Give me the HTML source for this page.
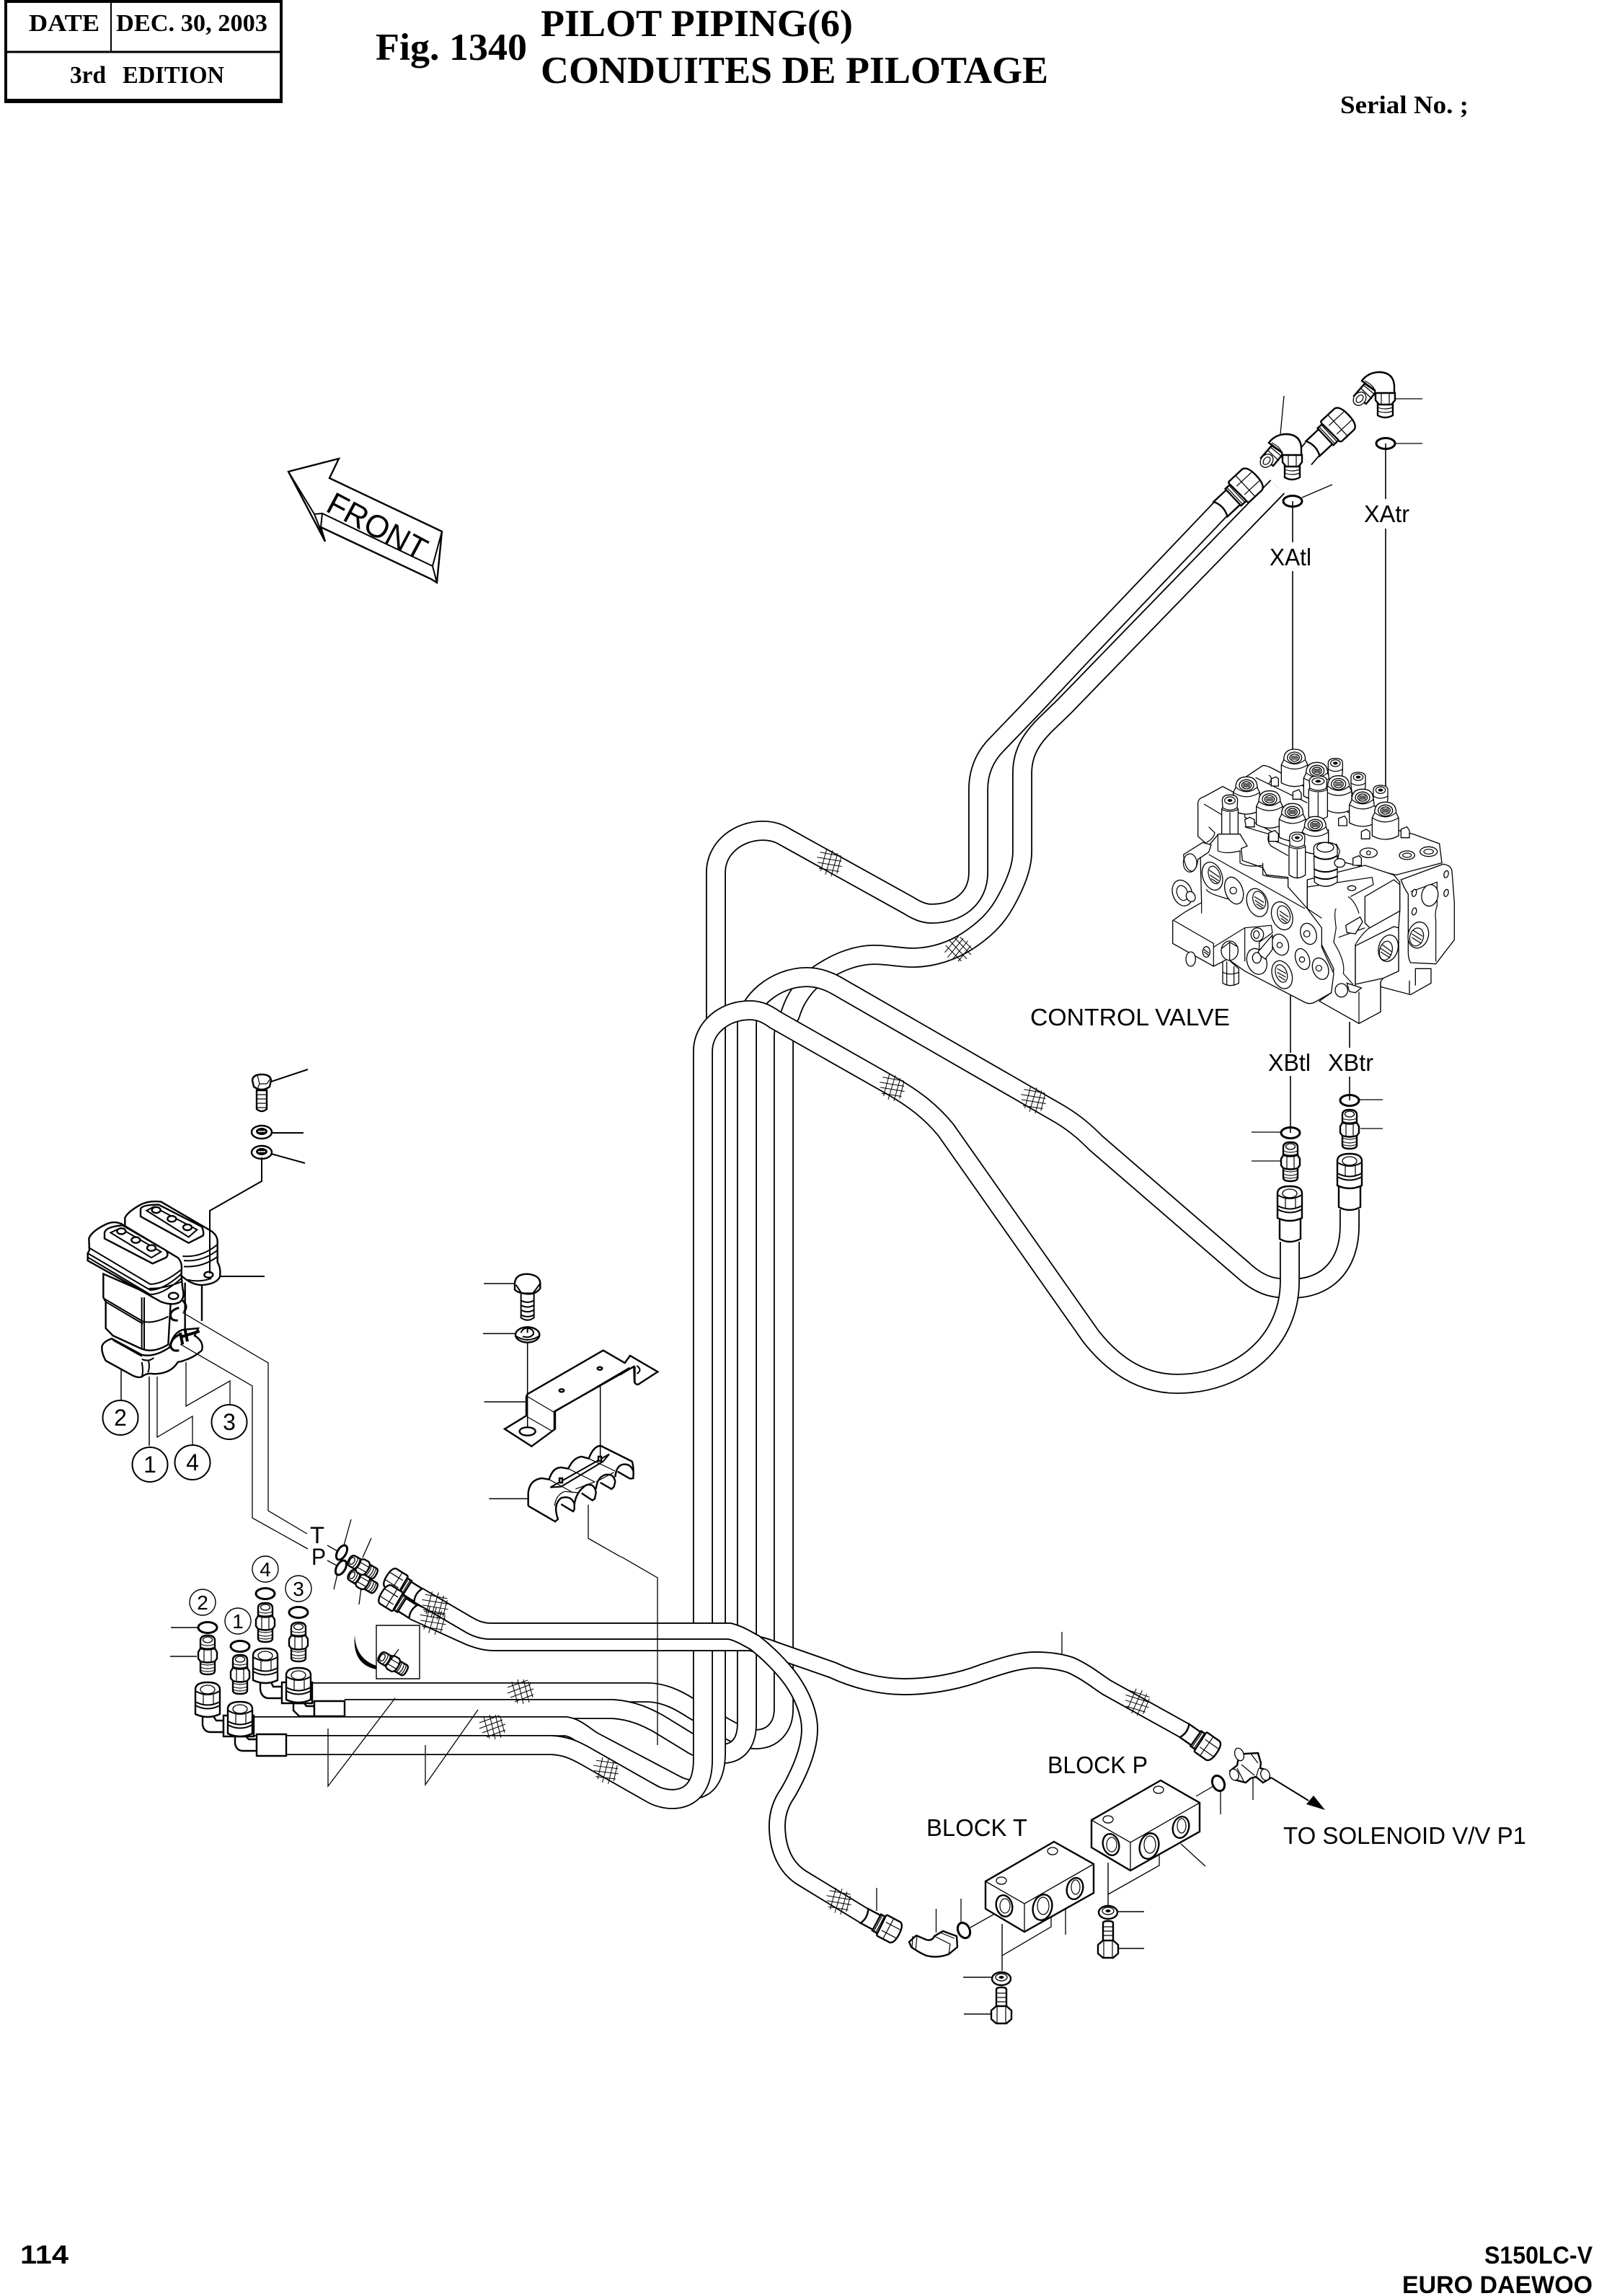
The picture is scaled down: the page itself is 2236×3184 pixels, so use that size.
<!DOCTYPE html>
<html><head><meta charset="utf-8"><title>Fig. 1340 Pilot Piping</title>
<style>
html,body{margin:0;padding:0;background:#fff}
svg{display:block}
svg *{vector-effect:non-scaling-stroke}
text{font-family:"Liberation Sans",sans-serif;fill:#000;stroke:none}
.s{font-family:"Liberation Serif",serif;font-weight:bold}
.b{font-weight:bold}
.o{fill:none;stroke:#000;stroke-width:28}
.i{fill:none;stroke:#fff;stroke-width:24.4}
.o2{fill:none;stroke:#000;stroke-width:24}
.i2{fill:none;stroke:#fff;stroke-width:20.2}
.l{fill:none;stroke:#000;stroke-width:1.3}
.m{fill:none;stroke:#000;stroke-width:2}
.k{fill:#fff;stroke:#000;stroke-width:2.4}
.r{fill:none;stroke:#000;stroke-width:3}
.t{fill:#fff;stroke:#000;stroke-width:1.3}
.tn{fill:none;stroke:#000;stroke-width:1.2}
.d{fill:#000;stroke:none}
.f{fill:none;stroke:#000;stroke-width:1}
</style></head><body>
<svg xmlns="http://www.w3.org/2000/svg" width="2236" height="3184" viewBox="0 0 2236 3184">
<rect width="2236" height="3184" fill="#fff"/>
<defs>
<path id="H3" d="M433,2347 H900 C925,2348 945,2360 962,2371 L1006,2396 C1030,2410 1043,2412 1048,2412 C1072,2412 1087,2395 1087,2370 V1439 C1087,1425 1091,1415 1096,1407 C1101,1392 1105,1384 1114,1372 C1122,1361 1132,1353 1146,1345 C1165,1333 1190,1324 1212,1324 C1232,1324 1248,1328 1266,1328 C1295,1328 1322,1318 1342,1305 C1365,1290 1380,1275 1391,1257 C1410,1225 1418,1200 1418,1181 V1072 C1418,1040 1435,1020 1450,1005 L1476,980 L1772,675"/>
<path id="H2" d="M478,2370 H850 C880,2372 900,2383 913,2390 L962,2420 C980,2429 990,2433 1004,2432 C1025,2431 1036,2415 1036,2390 V1420 C1036,1390 1075,1355 1119,1355 C1135,1355 1148,1360 1159,1366 L1470,1545 C1495,1560 1510,1575 1520,1585 L1725,1762 C1750,1785 1770,1787 1790,1787 C1845,1787 1872,1750 1872,1700 V1677"/>
<path id="H1" d="M352,2394 H785 C800,2396 812,2409 823,2415 L937,2475 C965,2490 993,2480 993,2430 V1210 C993,1175 1025,1152 1058,1152 C1070,1152 1080,1155 1088,1160 L1261,1256 C1275,1265 1285,1267 1292,1267 C1330,1267 1357,1245 1357,1210 V1095 C1357,1065 1370,1045 1383,1032 L1433,980 L1500,908.6 L1693,706"/>
<path id="H4" d="M397,2420 H765 C785,2421 797,2427 810,2434 L905,2488 C925,2499 975,2505 975,2440 V1458 C975,1425 1005,1401 1040,1401 C1055,1401 1065,1407 1075,1414 L1237,1506 C1265,1522 1290,1540 1312,1567 L1513,1853 C1550,1900 1590,1919 1633,1919 C1720,1919 1789,1860 1789,1777 V1722"/>
<path id="HP" d="M573,2235 L650,2270 C665,2276 675,2278 687,2278 H1040 C1050,2280 1060,2282 1075,2288 L1155,2316 C1185,2330 1220,2339 1254,2339 C1295,2339 1335,2330 1363,2319 C1390,2310 1415,2302 1436,2302 C1455,2302 1470,2304 1485,2309 C1505,2318 1520,2330 1535,2340 L1643,2400"/>
<path id="HT" d="M580,2212 L650,2253 C660,2259 670,2262 680,2262 H1012 C1025,2265 1036,2272 1047,2278 C1065,2292 1085,2312 1098,2330 C1112,2350 1123,2375 1123,2398 C1123,2430 1105,2465 1093,2486 C1083,2500 1078,2515 1078,2532 C1078,2565 1090,2590 1112,2604 L1199,2657"/>
<g id="n">
<path class="k" d="M-10,-20 Q-10,-27 0,-27 Q10,-27 10,-20 V22 Q10,27 0,27 Q-10,27 -10,22 Z"/>
<ellipse class="t" cx="0" cy="-21" rx="6.5" ry="4"/>
<path class="tn" d="M-10,-15 Q0,-11 10,-15 M-10,-11 Q0,-7 10,-11 M-10,12 Q0,16 10,12 M-10,17 Q0,21 10,17 M-10,21 Q0,25 10,21"/>
<path class="k" d="M-13,-4 L-10,-9 Q0,-6 10,-9 L13,-4 V5 L10,9 Q0,12 -10,9 L-13,5 Z"/>
<path class="tn" d="M-5,-7 L-5,9 M5,-7 V9"/>
</g>
<g id="u">
<path class="k" d="M-17,-12 Q-17,-22 0,-22 Q17,-22 17,-12 V22 Q0,30 -17,22 Z"/>
<path class="m" d="M-17,5 Q0,14 17,5 M-17,10 Q0,19 17,10"/>
<ellipse class="t" cx="0" cy="-12" rx="10" ry="6"/>
<path class="tn" d="M-6,-5 V9 M8,-5 V9"/>
<path class="m" d="M-17,-10 Q0,0 17,-10"/>
</g>
<g id="e">
<path class="k" d="M-28,2 L-13,-15 L3,-4 L-11,13 Z"/>
<ellipse class="t" cx="-20" cy="6" rx="8" ry="10" transform="rotate(40 -20 6)"/>
<ellipse class="tn" cx="-20" cy="6" rx="4" ry="6" transform="rotate(40 -20 6)"/>
<path class="tn" d="M-19,-9 L-3,6 M-15,-13 L1,0"/>
<path class="k" d="M-17,-19 Q-8,-31 8,-31 Q27,-30 28,-12 V3 L2,3 L1,-6 Q-8,-12 -17,-19 Z"/>
<path class="tn" d="M-13,-19 Q-3,-14 0,-8"/>
<path class="k" d="M5,12 H26 V29 Q15,35 5,29 Z"/>
<path class="tn" d="M5,18 Q15,22 26,18 M5,23 Q15,27 26,23"/>
<path class="k" d="M2,-2 L29,-2 L29,8 L24,14 L7,14 L2,8 Z"/>
<path class="tn" d="M10,-2 V14 M21,-2 V14"/>
</g>
<g id="h">
<path class="k" d="M0,-14 H26 V14 H0 Q7,0 0,-14 Z"/>
<path class="k" d="M24,-16 H35 V16 H24 Z"/>
<path class="tn" d="M27,-16 V16 M31,-16 V16"/>
<path class="k" d="M35,-20 Q32,-20 33,-14 L34,14 Q33,20 37,20 H60 Q68,18 68,0 Q68,-18 60,-20 Z"/>
<path class="tn" d="M38,-8 H66 M38,8 H66 M47,-20 V20"/>
</g>
<g id="w">
<ellipse class="k" cx="0" cy="2" rx="13" ry="9"/>
<ellipse class="t" cx="0" cy="0" rx="8" ry="5"/>
<ellipse class="d" cx="0" cy="0" rx="3.5" ry="2"/>
</g>
<g id="z">
<path class="f" d="M-18,-6 L10,-16 M-18,2 L14,-10 M-14,8 L18,-4 M-8,14 L18,4"/>
<path class="f" d="M-12,-14 L-4,16 M-4,-17 L4,17 M4,-17 L12,15 M11,-14 L17,8"/>
</g>
<g id="c">
<path class="t" d="M-45,10 Q-45,-35 0,-35 Q45,-35 45,10 L55,30 V105 Q0,135 -55,105 V30 Z"/>
<path class="tn" d="M-45,8 Q0,45 45,8 M-55,30 Q0,65 55,30"/>
<ellipse class="t" cx="0" cy="0" rx="30" ry="23"/>
<ellipse class="tn" cx="0" cy="0" rx="20" ry="15"/>
<path class="tn" d="M-14,-6 H14 M-16,0 H16 M-14,6 H14"/>
</g>
<g id="x">
<path class="t" d="M-32,-5 Q-32,-28 0,-28 Q32,-28 32,-5 L30,25 L34,30 V150 Q0,175 -34,150 V30 L-30,25 Z"/>
<path class="tn" d="M-30,25 Q0,45 30,25 M-34,32 Q0,50 34,32 M0,45 V165"/>
<ellipse class="tn" cx="0" cy="-5" rx="22" ry="15"/>
<ellipse class="d" cx="0" cy="-5" rx="10" ry="6"/>
</g>
<g id="y">
<path class="t" d="M-30,-5 Q-30,-25 0,-25 Q30,-25 30,-5 V30 L26,62 H-26 L-30,30 Z"/>
<path class="tn" d="M-30,20 Q0,38 30,20"/>
<ellipse class="tn" cx="0" cy="-5" rx="20" ry="14"/>
<ellipse class="d" cx="0" cy="-5" rx="10" ry="6"/>
</g>
</defs>

<!-- header -->
<rect x="8" y="2" width="382" height="139" fill="none" stroke="#000" stroke-width="4"/>
<path d="M6,72 H390" stroke="#000" stroke-width="3" fill="none"/>
<path d="M154,4 V72" stroke="#000" stroke-width="2" fill="none"/>
<rect x="6" y="137" width="386" height="6" fill="#000"/>
<text class="s" x="40" y="43" font-size="34" textLength="98" lengthAdjust="spacingAndGlyphs">DATE</text>
<text class="s" x="161" y="43" font-size="34" textLength="210" lengthAdjust="spacingAndGlyphs">DEC. 30, 2003</text>
<text class="s" x="97" y="115" font-size="34" textLength="50" lengthAdjust="spacingAndGlyphs">3rd</text>
<text class="s" x="170" y="115" font-size="34" textLength="141" lengthAdjust="spacingAndGlyphs">EDITION</text>
<text class="s" x="521" y="83" font-size="53" textLength="210" lengthAdjust="spacingAndGlyphs">Fig. 1340</text>
<text class="s" x="750" y="50" font-size="53" textLength="433" lengthAdjust="spacingAndGlyphs">PILOT PIPING(6)</text>
<text class="s" x="750" y="115" font-size="53" textLength="704" lengthAdjust="spacingAndGlyphs">CONDUITES DE PILOTAGE</text>
<text class="s" x="1859" y="157" font-size="35" textLength="178" lengthAdjust="spacingAndGlyphs">Serial No. ;</text>

<!-- FRONT arrow -->
<path class="k" d="M400,654 L470,636 L457,663 L613,737 L606,808 L598,803 L445,731 L451,751 L400,654 Z"/>
<path class="m" d="M400,654 L436,713 L447,712 L600,785 L613,737 M600,785 L606,808 M436,713 L451,751 M447,712 L445,731"/>
<text x="0" y="0" font-size="44" transform="translate(450,708) rotate(28)" textLength="150" lengthAdjust="spacingAndGlyphs">FRONT</text>

<!-- hoses -->
<use href="#H3" class="o"/><use href="#H3" class="i"/>
<use href="#H2" class="o"/><use href="#H2" class="i"/>
<use href="#H1" class="o"/><use href="#H1" class="i"/>
<use href="#H4" class="o"/><use href="#H4" class="i"/>
<use href="#HP" class="o2"/><use href="#HP" class="i2"/>
<use href="#HT" class="o2"/><use href="#HT" class="i2"/>
<path class="o" d="M1809,636 L1821,622"/><path class="i" d="M1809,636 L1821,622"/>

<!-- mesh -->
<use href="#z" transform="translate(1150,1196) rotate(30)"/>
<use href="#z" transform="translate(1329,1317) rotate(-30)"/>
<use href="#z" transform="translate(1237,1508) rotate(30)"/>
<use href="#z" transform="translate(1433,1525) rotate(30)"/>
<use href="#z" transform="translate(722,2346)"/>
<use href="#z" transform="translate(683,2395)"/>
<use href="#z" transform="translate(840,2455) rotate(28)"/>
<use href="#z" transform="translate(1163,2636) rotate(30)"/>
<use href="#z" transform="translate(1577,2360) rotate(38)"/>
<use href="#z" transform="translate(603,2226) rotate(30) scale(1.05)"/>
<use href="#z" transform="translate(600,2247) rotate(30) scale(1.05)"/>

<!-- hose ends top -->
<use href="#h" transform="translate(1693,706) rotate(-43)"/>
<use href="#h" transform="translate(1821,622) rotate(-43)"/>
<use href="#e" transform="translate(1777,633)"/>
<use href="#e" transform="translate(1906,547)"/>

<!-- top labels and leaders -->
<ellipse class="r" cx="1793" cy="695" rx="13" ry="7.5"/>
<ellipse class="r" cx="1922" cy="615" rx="13" ry="7.5"/>
<path class="l" d="M1776,602 L1781,549 M1806,690 L1848,672 M1934,615 H1973 M1934,553 H1973"/>
<path class="m" style="stroke-width:1.6" d="M1793,695 V752 M1793,792 V1130 M1922,615 V692 M1922,733 V1125"/>
<text x="1761" y="784" font-size="33" textLength="58" lengthAdjust="spacingAndGlyphs">XAtl</text>
<text x="1892" y="724" font-size="33" textLength="63" lengthAdjust="spacingAndGlyphs">XAtr</text>

<!-- control valve -->
<g transform="translate(1560,1000) scale(.33333)">
<path class="t" d="M305,480 V340 Q308,320 330,315 L408,272 L470,305 V470 L400,560 Z"/>
<path class="tn" d="M330,345 L405,390 M350,440 L375,465 Q370,490 340,505"/>
<path class="t" d="M500,235 L575,185 Q590,182 640,210 L1000,420 L1200,470 L1310,510 L1320,590 L1130,640 L800,560 L500,400 Z"/>
<path class="tn" d="M545,235 L760,340 M600,225 Q620,235 600,260"/>
<path class="t" d="M1150,660 L1325,595 Q1360,600 1362,625 L1372,755 V910 L1295,1010 L1190,1005 Q1180,990 1180,960 V720 Q1160,690 1150,660 Z"/>
<path class="tn" d="M1190,710 L1300,670 V770 Q1290,790 1295,830 V1000"/>
<ellipse class="t" cx="1205" cy="715" rx="9" ry="15" transform="rotate(15 1205 715)"/>
<ellipse class="t" cx="1338" cy="637" rx="9" ry="15" transform="rotate(15 1338 637)"/>
<ellipse class="t" cx="1338" cy="715" rx="9" ry="15" transform="rotate(15 1338 715)"/>
<ellipse class="t" cx="1205" cy="792" rx="9" ry="15" transform="rotate(15 1205 792)"/>
<ellipse class="t" cx="1270" cy="725" rx="34" ry="45" transform="rotate(10 1270 725)"/>
<ellipse class="t" cx="1222" cy="890" rx="42" ry="55" transform="rotate(15 1222 890)"/>
<ellipse class="tn" cx="1215" cy="898" rx="28" ry="38" transform="rotate(15 1215 898)"/>
<path class="tn" d="M1195,885 L1235,910 M1195,900 L1235,925 M1200,870 L1240,895"/>
<path class="t" d="M1065,1090 V1105 L1190,1138 L1275,1090 V1030 H1210 V1100 M1185,1080 V1135"/>
<path class="t" d="M760,660 L1000,600 L1120,640 L1145,670 V790 L1140,860 V1040 L1075,1070 L1065,1085 V1210 L975,1258 L810,1165 L860,1130 L870,1030 L820,930 L760,780 Z"/>
<path class="t" d="M1000,730 L1120,660 L1145,680 V790 L1020,860 L1000,840 Z"/>
<path class="t" d="M960,935 L1120,855 L1140,860 V1040 L1075,1070 L960,1095 Z"/>
<ellipse class="t" cx="1097" cy="945" rx="40" ry="56" transform="rotate(15 1097 945)"/>
<ellipse class="tn" cx="1087" cy="955" rx="26" ry="40" transform="rotate(15 1087 955)"/>
<path class="tn" d="M1065,945 L1110,975 M1065,960 L1105,985 M1072,930 L1112,960"/>
<path class="tn" d="M975,1125 V1258 M880,780 Q870,790 880,860 L870,920 Q920,1000 910,1050 L950,1095 M1020,860 Q990,880 960,930 V1100 M890,900 L1000,860 M1065,1210 V1085 M930,730 Q960,750 975,800"/>
<path class="tn" d="M760,690 L1030,650 L1035,680 L940,730"/>
<ellipse class="t" cx="945" cy="695" rx="17" ry="10"/>
<path class="t" d="M920,850 L980,815 L990,835 L960,885 L925,880 Z"/>
<ellipse class="t" cx="902" cy="1120" rx="26" ry="28"/>
<path class="t" d="M925,1090 L985,1110 L960,1130 L935,1125 Z"/>
<use href="#c" transform="translate(707,152)"/>
<use href="#c" transform="translate(800,207)"/>
<use href="#y" transform="translate(877,180)"/>
<use href="#c" transform="translate(890,262)"/>
<use href="#y" transform="translate(972,238)"/>
<use href="#c" transform="translate(990,318)"/>
<use href="#y" transform="translate(1065,292)"/>
<use href="#c" transform="translate(1085,372)"/>
<use href="#c" transform="translate(507,267)"/>
<use href="#c" transform="translate(603,325)"/>
<use href="#x" transform="translate(805,255) scale(1.15,.95)"/>
<use href="#c" transform="translate(698,378)"/>
<use href="#c" transform="translate(793,432)"/>
<use href="#x" transform="translate(438,335)"/>
<path class="t" d="M390,470 L480,470 L510,520 L485,530 L490,580 L575,610 L590,640 L680,650 L680,690 L760,780 L820,860 L820,940 L870,1050 L860,1130 L790,1170 Q770,1180 750,1170 L500,1040 L430,990 L370,1020 L200,925 V830 L250,795 L320,755 L315,560 Z"/>
<path class="t" d="M245,555 L325,505 L360,515 L350,545 L305,575 Q300,620 280,625 Q250,620 245,555 Z"/>
<ellipse class="tn" cx="272" cy="590" rx="28" ry="38"/>
<path class="tn" d="M388,470 V540 Q420,555 480,540 V590 Q510,610 575,600 M575,590 V640 Q600,650 680,655 M600,490 L680,520 M500,440 L600,470 Q590,500 610,520 L680,560 M350,555 L750,780 M320,755 V800 M205,830 L370,925 V1020 M370,940 L500,860 L610,850 L615,880 L560,920 V960 L615,950 M500,860 V1000 M340,700 Q345,720 470,750 M760,780 V660 M760,780 L820,820"/>
<ellipse class="t" cx="240" cy="715" rx="40" ry="55" transform="rotate(-20 240 715)"/>
<ellipse class="tn" cx="240" cy="715" rx="22" ry="32" transform="rotate(-20 240 715)"/>
<ellipse class="t" cx="275" cy="730" rx="18" ry="22" transform="rotate(-30 275 730)"/>
<ellipse class="t" cx="365" cy="645" rx="40" ry="60" transform="rotate(-20 365 645)"/>
<ellipse class="tn" cx="373" cy="640" rx="23" ry="38" transform="rotate(-20 373 640)"/>
<path class="tn" d="M352,620 L395,650 M355,640 L392,665 M360,655 L390,675"/>
<ellipse class="t" cx="455" cy="705" rx="36" ry="58" transform="rotate(-20 455 705)"/>
<circle class="tn" cx="452" cy="705" r="14"/>
<ellipse class="t" cx="552" cy="755" rx="42" ry="60" transform="rotate(-20 552 755)"/>
<ellipse class="tn" cx="560" cy="745" rx="25" ry="38" transform="rotate(-20 560 745)"/>
<path class="tn" d="M540,730 L580,755 M542,745 L578,770 M548,760 L575,778"/>
<ellipse class="t" cx="655" cy="810" rx="42" ry="60" transform="rotate(-20 655 810)"/>
<ellipse class="tn" cx="662" cy="805" rx="25" ry="38" transform="rotate(-20 662 805)"/>
<path class="tn" d="M645,790 L682,815 M645,805 L680,830 M650,820 L675,838"/>
<ellipse class="t" cx="765" cy="885" rx="32" ry="45" transform="rotate(-20 765 885)"/>
<circle class="tn" cx="758" cy="885" r="13"/>
<ellipse class="t" cx="648" cy="930" rx="33" ry="45" transform="rotate(-20 648 930)"/>
<circle class="tn" cx="645" cy="932" r="11"/>
<ellipse class="t" cx="740" cy="990" rx="28" ry="45" transform="rotate(-20 740 990)"/>
<circle class="tn" cx="738" cy="992" r="11"/>
<ellipse class="t" cx="815" cy="1030" rx="32" ry="46" transform="rotate(-20 815 1030)"/>
<circle class="tn" cx="808" cy="1028" r="12"/>
<ellipse class="t" cx="655" cy="1055" rx="40" ry="60" transform="rotate(-20 655 1055)"/>
<ellipse class="tn" cx="652" cy="1050" rx="23" ry="38" transform="rotate(-20 652 1050)"/>
<path class="tn" d="M635,1030 L672,1050 M635,1045 L670,1065 M640,1060 L668,1078"/>
<ellipse class="t" cx="550" cy="1000" rx="40" ry="55" transform="rotate(-20 550 1000)"/>
<ellipse class="t" cx="550" cy="985" rx="18" ry="22"/>
<path class="t" d="M555,960 L615,890 L615,950 L585,990 L565,975 Z"/>
<ellipse class="t" cx="552" cy="888" rx="26" ry="28"/>
<ellipse class="tn" cx="548" cy="888" rx="12" ry="16"/>
<path class="t" d="M408,1000 V1090 Q440,1110 475,1090 V1030 L430,990 Z"/>
<path class="tn" d="M408,1045 Q440,1060 475,1045 M425,1000 V1098 M455,1020 V1098"/>
<ellipse class="t" cx="437" cy="955" rx="35" ry="40"/>
<path class="tn" d="M405,945 L437,920 L472,940 M437,920 V995"/>
<ellipse class="t" cx="275" cy="990" rx="20" ry="30"/>
<ellipse class="t" cx="340" cy="960" rx="15" ry="22"/>
<path class="tn" d="M330,950 L350,965 M330,960 L350,975"/>
<path class="t" d="M787,530 Q787,505 835,505 Q885,505 885,530 V670 Q835,705 790,670 Z"/>
<path class="m" d="M787,560 Q835,590 885,560 M787,615 Q835,640 885,615 M787,645 Q835,670 885,645"/>
<ellipse class="t" cx="835" cy="525" rx="35" ry="20"/>
<path class="tn" d="M880,510 L895,540 L885,580 M848,450 V510"/>
<ellipse class="t" cx="895" cy="590" rx="22" ry="18"/>
<use href="#x" transform="translate(718,490)"/>
<ellipse class="t" cx="1015" cy="548" rx="36" ry="20"/>
<circle class="tn" cx="1015" cy="548" r="8"/>
<ellipse class="t" cx="1175" cy="558" rx="32" ry="18"/>
<ellipse class="tn" cx="1175" cy="558" rx="18" ry="9"/>
<ellipse class="t" cx="1265" cy="543" rx="36" ry="20"/>
<ellipse class="tn" cx="1265" cy="543" rx="20" ry="10"/>
<path class="t" d="M500,410 L520,400 L540,410 V440 L505,440 Z M600,465 L625,455 L640,470 V500 L600,500 Z M890,405 L915,395 L925,410 V435 L890,435 Z M985,460 L1005,450 L1020,460 V490 L985,490 Z M1150,450 L1175,440 L1185,455 V485 L1150,485 Z M950,570 L975,560 L985,570 V600 L950,600 Z M700,295 L725,285 L735,300 V325 L700,325 Z M610,240 L630,232 L640,240 V270 H610 Z"/>
</g>

<!-- control valve labels -->
<text x="1429" y="1422" font-size="33" textLength="277" lengthAdjust="spacingAndGlyphs">CONTROL VALVE</text>
<text x="1759" y="1485" font-size="33" textLength="59" lengthAdjust="spacingAndGlyphs">XBtl</text>
<text x="1842" y="1485" font-size="33" textLength="63" lengthAdjust="spacingAndGlyphs">XBtr</text>
<path class="m" style="stroke-width:1.6" d="M1790,1380 V1460 M1790,1492 V1571 M1872,1417 V1453 M1872,1493 V1526"/>

<!-- XB fittings -->
<path class="k" d="M1775,1683 V1718 Q1789,1726 1804,1718 V1683 Z"/>
<path class="k" d="M1857,1640 V1674 Q1872,1682 1887,1674 V1640 Z"/>
<use href="#u" transform="translate(1789,1667)"/>
<use href="#u" transform="translate(1872,1622)"/>
<use href="#n" transform="translate(1790,1611)"/>
<use href="#n" transform="translate(1872,1566)"/>
<ellipse class="r" cx="1790" cy="1571" rx="13" ry="7.5"/>
<ellipse class="r" cx="1872" cy="1526" rx="13" ry="7.5"/>
<path class="l" d="M1736,1570 H1776 M1736,1610 H1776 M1885,1525 H1918 M1887,1565 H1918"/>

<!-- bolt/washers upper left -->
<path class="k" d="M356,1512 V1538 Q363,1544 370,1538 V1512 Z"/>
<path class="tn" d="M356,1518 H370 M356,1524 H370 M356,1530 H370 M356,1536 H370"/>
<path class="k" d="M350,1498 Q351,1490 363,1490 Q375,1490 376,1498 L374,1507 Q363,1515 352,1507 Z"/>
<path class="tn" d="M357,1491 L360,1503 H370 L375,1496 M360,1503 L357,1510"/>
<ellipse class="k" cx="363" cy="1570" rx="14" ry="9"/><ellipse class="d" cx="363" cy="1569" rx="8" ry="5"/><path d="M358,1569 H368" stroke="#fff" stroke-width="1.5"/>
<ellipse class="k" cx="363" cy="1598" rx="14" ry="9"/><ellipse class="d" cx="363" cy="1597" rx="8" ry="5"/><path d="M358,1597 H368" stroke="#fff" stroke-width="1.5"/>
<path class="m" d="M376,1500 L427,1483 M376,1571 H421 M376,1600 L423,1613 M363,1605 V1638 L291,1679 V1766 M305,1770 H367"/>

<!-- pilot valve (traced) -->
<g transform="translate(80,1440) scale(.33333,.40816)">
<path class="k" d="M530,830 V990 M600,840 V960"/>
<path class="k" d="M280,610 Q290,590 345,565 Q380,550 430,555 L640,655 Q665,670 665,690 V760 Q680,780 675,810 Q660,835 600,838 Q560,838 520,810 L280,680 Z"/>
<path class="k" d="M345,580 Q350,565 420,565 L600,640 Q610,660 605,670 L545,695 L345,605 Z"/>
<path class="m" d="M370,585 L400,572 L580,650 L545,675 Z M520,740 Q600,745 665,700 M525,755 Q600,760 665,720 M525,775 Q600,780 665,742 M540,820 Q590,830 640,815"/>
<ellipse class="k" cx="410" cy="583" rx="18" ry="10"/><ellipse class="k" cx="475" cy="613" rx="18" ry="10"/><ellipse class="k" cx="540" cy="642" rx="18" ry="10"/>
<ellipse class="k" cx="628" cy="803" rx="18" ry="10"/>
<path class="k" d="M190,800 V880 L200,895 V985 L230,1010 L350,1055 Q400,1070 460,1040 L470,900 Z"/>
<path class="m" d="M195,885 L355,962 Q400,970 460,945 M200,895 L355,970 M350,880 V1055 M360,880 V1055"/>
<path class="k" d="M185,1045 Q190,1030 225,1020 L350,1075 Q400,1085 465,1050 Q480,1000 520,990 L585,985 L570,1010 Q610,1030 600,1060 Q560,1090 500,1100 Q470,1140 400,1140 Q370,1135 350,1150 Q330,1155 300,1140 L200,1095 Q180,1065 185,1045 Z"/>
<path class="m" d="M230,1025 L350,1080 M350,1090 Q380,1100 400,1085 M378,1095 Q385,1120 375,1135 M350,1100 Q358,1130 350,1150"/>
<path d="M510,1000 L520,1040 M530,990 L540,1030 M510,1015 L590,995" stroke="#000" stroke-width="4" fill="none"/>
<path class="r" d="M510,1005 Q470,1020 470,1045 Q475,1065 505,1060"/>
<path class="r" d="M505,915 Q465,925 470,945 Q475,960 500,958 M520,890 Q545,910 525,930"/>
<path class="k" d="M130,680 Q140,655 205,630 Q235,620 265,630 L500,745 Q520,760 515,790 V810 L520,850 Q530,880 510,895 Q480,910 430,895 L125,755 V730 L132,720 Z"/>
<path class="m" d="M128,710 L385,835 Q440,835 515,785 M125,730 L385,855 Q440,855 515,800 M128,745 L385,870 Q440,870 515,815 M380,850 Q450,850 520,825"/>
<path class="k" d="M195,660 Q200,640 270,635 L450,720 Q465,735 450,745 L395,765 L195,680 Z"/>
<path class="m" d="M220,660 L260,645 L430,725 L390,745 Z"/>
<ellipse class="k" cx="265" cy="655" rx="18" ry="10"/><ellipse class="k" cx="325" cy="685" rx="18" ry="10"/><ellipse class="k" cx="390" cy="712" rx="18" ry="10"/>
<ellipse class="k" cx="482" cy="875" rx="20" ry="11"/>
</g>
<path class="m" d="M291,1679 V1766"/>
<path class="l" d="M372,2080 V1890 L253,1820 M350,2080 V1922 L250,1864 M350,2080 V2105 L427,2148 M372,2080 V2095 L426,2127"/>
<path class="m" style="stroke-width:1.5" d="M168,1899 V1942 M207,1909 V2005"/>
<path class="l" d="M218,1909 V1993 L267,1964 V2003 M258,1889 V1950 L319,1915 V1947"/>
<g fill="none" stroke="#000" stroke-width="2">
<ellipse cx="167" cy="1966" rx="24.5" ry="24"/><ellipse cx="208" cy="2031" rx="24.5" ry="24"/><ellipse cx="267" cy="2028" rx="24.5" ry="24"/><ellipse cx="318" cy="1972" rx="24.5" ry="24"/>
</g>
<g font-size="32" text-anchor="middle">
<text x="167" y="1977">2</text><text x="208" y="2042">1</text><text x="267" y="2039">4</text><text x="318" y="1983">3</text>
</g>

<!-- Clamp and bracket (zoom coords) -->
<g transform="translate(650,1740) scale(.33333)">
<path class="k" d="M192,118 Q195,80 245,80 Q298,85 298,120 V140 Q280,165 245,163 Q205,160 192,145 Z"/>
<path class="m" d="M197,125 L220,160 H268 L298,120 M218,163 V262 Q245,282 272,262 V163 M218,190 Q245,205 272,190 M218,210 Q245,225 272,210 M218,230 Q245,245 272,230 M218,250 Q245,265 272,250"/>
<ellipse class="k" cx="245" cy="333" rx="50" ry="32"/>
<path class="m" d="M218,325 Q225,305 245,305 Q272,310 270,330 Q255,350 225,340 M245,305 V325 M196,338 Q245,370 294,338"/>
<path class="k" d="M245,580 L560,398 L650,450 L672,420 L787,487 L705,540 Q695,540 690,530 L688,465 L360,650 L360,725 L262,797 L150,725 L240,670 L240,590 Z"/>
<path class="m" d="M630,500 L688,465 M355,655 L670,470 M692,465 V535 M700,462 Q725,480 700,495"/>
<path class="tn" d="M245,590 L355,655 M245,675 L350,735 M355,650 V725"/>
<ellipse class="k" cx="387" cy="565" rx="10" ry="6"/><ellipse class="k" cx="546" cy="473" rx="10" ry="6"/>
<ellipse class="k" cx="245" cy="735" rx="33" ry="17"/>
<path class="m" style="stroke-width:2.4" d="M248,1045 V990 Q255,935 305,930 L335,935 Q350,885 385,885 L415,890 Q435,845 470,840 L500,848 Q520,795 550,795 L680,860 Q688,880 685,930 L672,932"/>
<path class="m" style="stroke-width:2.4" d="M248,1045 L360,1110 L372,1100 Q350,1040 385,1012 Q425,1000 440,1035 V1060 L435,1068 L385,1038"/>
<path class="m" style="stroke-width:2.4" d="M440,1040 Q447,985 490,958 Q525,950 530,990 L525,1015 L515,1022 L470,992"/>
<path class="m" style="stroke-width:2.4" d="M530,975 Q535,925 570,915 Q605,910 610,945 L605,965 L595,975 L548,948"/>
<path class="m" style="stroke-width:2.4" d="M610,925 Q615,875 645,872 Q675,870 685,900 M672,932 L620,902"/>
<path class="tn" d="M335,935 L435,990 M415,890 L525,945 M500,848 L610,900 M358,1045 Q362,1000 400,985 L455,990 M445,975 L525,945 M530,945 L605,905"/>
<path class="m" d="M340,968 L585,830 L560,860 L385,965 Z"/>
<rect class="k" x="378" y="930" width="12" height="18"/><rect class="k" x="540" y="840" width="12" height="18"/>
<path class="m" style="stroke-width:1.5" d="M245,365 V720 M548,545 V840 M63,120 H190 M60,328 H195 M65,612 H240 M85,1015 H245"/>
<path class="l" d="M498,1040 V1180 L635,1258"/>
</g>
<path class="l" d="M862,2159 L912,2188 V2420"/>

<!-- left fittings -->
<path class="k" d="M281,2380 V2392 Q283,2402 292,2402 H310 V2386 H300 L296,2380 Z"/>
<path class="k" d="M326,2408 V2418 Q328,2428 337,2428 H356 V2412 H345 L341,2408 Z"/>
<path class="k" d="M361,2333 V2343 Q363,2355 373,2355 H391 V2339 H379 L376,2333 Z"/>
<path class="k" d="M407,2362 V2372 L415,2380 H436 V2366 H425 L422,2362 Z"/>
<rect class="k" x="310" y="2379" width="42" height="29"/>
<rect class="k" x="356" y="2405" width="41" height="30"/>
<rect class="k" x="391" y="2333" width="42" height="29"/>
<rect class="k" x="436" y="2359" width="42" height="21"/>
<use href="#u" transform="translate(288,2355)"/>
<use href="#u" transform="translate(333,2382)"/>
<use href="#u" transform="translate(368,2308)"/>
<use href="#u" transform="translate(414,2335)"/>
<use href="#n" transform="translate(288,2295)"/>
<use href="#n" transform="translate(333,2322)"/>
<use href="#n" transform="translate(368,2250)"/>
<use href="#n" transform="translate(414,2277)"/>
<ellipse class="r" cx="288" cy="2257" rx="13" ry="7.5"/>
<ellipse class="r" cx="333" cy="2283" rx="13" ry="7.5"/>
<ellipse class="r" cx="368" cy="2210" rx="13" ry="7.5"/>
<ellipse class="r" cx="414" cy="2236" rx="13" ry="7.5"/>
<g fill="none" stroke="#000" stroke-width="1.4">
<circle cx="281" cy="2222" r="18"/><circle cx="330" cy="2248" r="18"/><circle cx="368" cy="2176" r="18"/><circle cx="414" cy="2203" r="18"/>
</g>
<g font-size="28" text-anchor="middle">
<text x="281" y="2232">2</text><text x="330" y="2258">1</text><text x="368" y="2186">4</text><text x="414" y="2213">3</text>
</g>
<path class="m" style="stroke-width:1.4" d="M237,2257 H275 M236,2297 H273"/>
<path class="l" d="M455,2397 V2477 L548,2355 M590,2420 V2475 L663,2371"/>

<!-- T P -->
<text x="430" y="2140" font-size="32" textLength="20" lengthAdjust="spacingAndGlyphs">T</text>
<text x="432" y="2170" font-size="32" textLength="20" lengthAdjust="spacingAndGlyphs">P</text>
<use href="#h" transform="translate(580,2212) rotate(212) scale(.75)"/>
<use href="#h" transform="translate(573,2235) rotate(212) scale(.75)"/>
<use href="#n" transform="translate(503,2193) rotate(-60) scale(.8)"/>
<use href="#n" transform="translate(503,2173) rotate(-60) scale(.8)"/>
<ellipse class="r" cx="474" cy="2153" rx="11" ry="6" transform="rotate(-60 474 2153)"/>
<ellipse class="r" cx="473" cy="2174" rx="11" ry="6" transform="rotate(-60 473 2174)"/>
<path class="l" d="M487,2107 L477,2143 M454,2143 L468,2151 M454,2164 L467,2171 M463,2204 L468,2183 M515,2133 L503,2160 M498,2225 L501,2202"/>
<rect x="522" y="2254" width="60" height="74" fill="none" stroke="#000" stroke-width="1.4"/>
<use href="#n" transform="translate(545,2307) rotate(-60) scale(.8)"/>
<path class="l" d="M553,2287 L542,2302"/>
<path class="d" d="M492,2267 Q493,2300 522,2310 V2315 Q488,2308 492,2267 Z"/>

<!-- solenoid side -->
<use href="#h" transform="translate(1643,2400) rotate(35) scale(.8)"/>
<use href="#h" transform="translate(1199,2657) rotate(28) scale(.8)"/>
<path class="k" d="M1718,2438 L1726,2432 L1745,2431 L1749,2445 L1748,2452 L1755,2454 L1762,2466 L1752,2472 L1742,2464 L1735,2466 L1728,2472 L1712,2468 L1706,2456 L1716,2448 Z"/>
<ellipse class="t" cx="1719" cy="2433" rx="6" ry="9" transform="rotate(-20 1719 2433)"/>
<ellipse class="t" cx="1712" cy="2461" rx="6" ry="8" transform="rotate(-20 1712 2461)"/>
<ellipse class="t" cx="1755" cy="2461" rx="6" ry="8" transform="rotate(-20 1755 2461)"/>
<path class="tn" d="M1722,2447 L1740,2462 M1735,2432 L1745,2445 M1716,2452 L1726,2472 M1746,2452 L1742,2466"/>
<path class="m" d="M1763,2465 L1815,2497"/>
<path class="d" d="M1838,2510 L1822,2490 L1812,2502 Z"/>
<path class="l" d="M1738,2465 V2496 M1473,2263 V2295 M1659,2491 L1683,2477 M1693,2483 V2516 M1638,2557 L1672,2588 M1537,2627 L1608,2587 V2573"/>
<path class="m" style="stroke-width:1.4" d="M1537,2583 V2642 M1550,2651 H1587 M1551,2702 H1587"/>
<ellipse class="r" cx="1690" cy="2473" rx="8" ry="11" transform="rotate(-25 1690 2473)"/>
<text x="1780" y="2557" font-size="33" textLength="337" lengthAdjust="spacingAndGlyphs">TO SOLENOID V/V P1</text>
<text x="1453" y="2459" font-size="33" textLength="139" lengthAdjust="spacingAndGlyphs">BLOCK P</text>
<text x="1285" y="2546" font-size="33" textLength="140" lengthAdjust="spacingAndGlyphs">BLOCK T</text>

<!-- blocks -->
<path class="k" d="M1610,2469 L1664,2500 V2540 L1568,2594 L1514,2562 V2524 Z"/>
<path class="l" d="M1514,2524 L1568,2555 L1664,2500 M1568,2555 V2594"/>
<ellipse class="t" cx="1607" cy="2482" rx="7" ry="5"/><ellipse class="t" cx="1537" cy="2523" rx="7" ry="5"/>
<ellipse class="k" cx="1541" cy="2558" rx="11" ry="15" transform="rotate(-15 1541 2558)"/><ellipse class="tn" cx="1542" cy="2558" rx="7" ry="10"/>
<ellipse class="k" cx="1594" cy="2560" rx="13" ry="18" transform="rotate(15 1594 2560)"/><ellipse class="tn" cx="1595" cy="2558" rx="8" ry="12"/>
<ellipse class="k" cx="1638" cy="2534" rx="11" ry="15" transform="rotate(15 1638 2534)"/><ellipse class="tn" cx="1639" cy="2532" rx="6" ry="10"/>
<path class="k" d="M1462,2554 L1517,2585 V2625 L1421,2679 L1367,2647 V2609 Z"/>
<path class="l" d="M1367,2609 L1421,2640 L1517,2585 M1421,2640 V2679"/>
<ellipse class="t" cx="1460" cy="2567" rx="7" ry="5"/><ellipse class="t" cx="1389" cy="2608" rx="7" ry="5"/>
<ellipse class="k" cx="1393" cy="2643" rx="11" ry="15" transform="rotate(-15 1393 2643)"/><ellipse class="tn" cx="1394" cy="2643" rx="7" ry="10"/>
<ellipse class="k" cx="1446" cy="2645" rx="13" ry="18" transform="rotate(15 1446 2645)"/><ellipse class="tn" cx="1447" cy="2643" rx="8" ry="12"/>
<ellipse class="k" cx="1491" cy="2619" rx="11" ry="15" transform="rotate(15 1491 2619)"/><ellipse class="tn" cx="1492" cy="2617" rx="6" ry="10"/>

<!-- bottom fittings -->
<path class="k" d="M1261,2693 L1271,2684 L1285,2690 Q1293,2692 1296,2685 L1308,2678 L1327,2685 L1328,2700 L1316,2710 Q1300,2716 1285,2712 Q1275,2708 1264,2700 Z"/>
<path class="tn" d="M1266,2685 L1265,2702 M1272,2685 L1270,2705 M1296,2685 L1318,2696 L1316,2710 M1304,2680 L1324,2688"/>
<ellipse class="r" cx="1337" cy="2677" rx="8" ry="11" transform="rotate(-25 1337 2677)"/>
<path class="l" d="M1216,2618 V2650 M1298.5,2647 V2680 M1333,2633 V2667 M1346,2673 L1378,2655 M1390,2712 L1458,2672 V2657 M1478,2647 V2683"/>
<path class="m" style="stroke-width:1.4" d="M1390,2668 V2733 M1336,2742 H1376 M1337,2793 H1374"/>
<use href="#w" transform="translate(1389,2742)"/>
<use href="#w" transform="translate(1537,2650)"/>
<path class="k" d="M1382,2759 Q1382,2756 1389,2756 Q1396,2756 1396,2759 V2785 H1382 Z"/>
<path class="tn" d="M1382,2764 H1396 M1382,2770 H1396 M1382,2776 H1396"/>
<path class="k" d="M1375,2788 L1382,2782 H1396 L1403,2788 V2800 L1396,2806 H1382 L1375,2800 Z"/>
<path class="tn" d="M1383,2783 V2805 M1395,2783 V2805"/>
<path class="k" d="M1530,2667 Q1530,2664 1537,2664 Q1544,2664 1544,2667 V2694 H1530 Z"/>
<path class="tn" d="M1530,2672 H1544 M1530,2678 H1544 M1530,2684 H1544"/>
<path class="k" d="M1523,2697 L1530,2691 H1544 L1551,2697 V2709 L1544,2715 H1530 L1523,2709 Z"/>
<path class="tn" d="M1531,2692 V2714 M1543,2692 V2714"/>

<!-- footer -->
<text class="b" x="28" y="3139" font-size="36" textLength="67" lengthAdjust="spacingAndGlyphs">114</text>
<text class="b" x="2059" y="3139" font-size="34" textLength="150" lengthAdjust="spacingAndGlyphs">S150LC-V</text>
<text class="b" x="1945" y="3180" font-size="34" textLength="264" lengthAdjust="spacingAndGlyphs">EURO DAEWOO</text>
</svg>
</body></html>
